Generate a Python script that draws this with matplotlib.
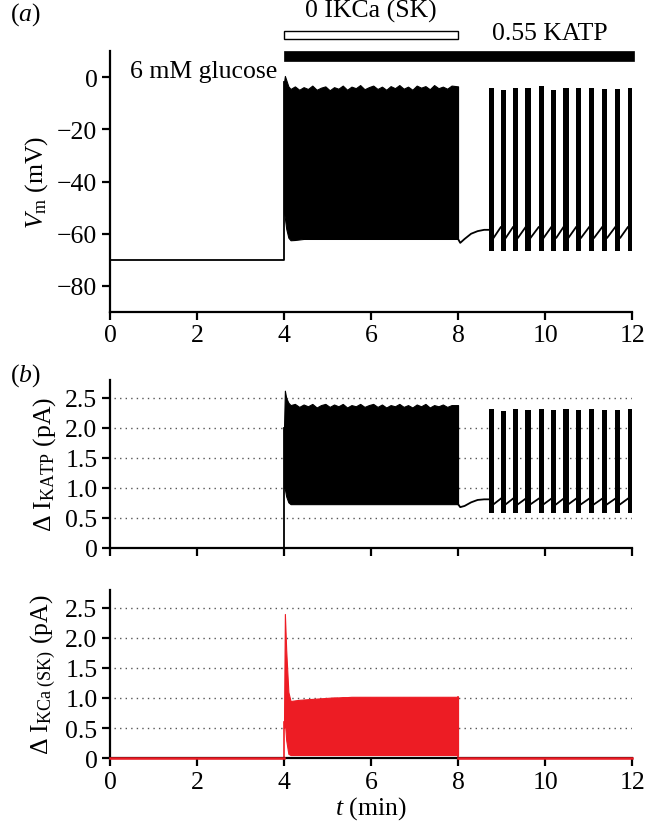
import numpy as np
import matplotlib
matplotlib.use('Agg')
import matplotlib.pyplot as plt
from matplotlib.patches import Rectangle
import matplotlib.transforms as mtransforms

plt.rcParams['font.family'] = ['Liberation Serif', 'DejaVu Serif']
plt.rcParams['mathtext.fontset'] = 'custom'
plt.rcParams['mathtext.rm'] = 'Liberation Serif'
plt.rcParams['mathtext.it'] = 'Liberation Serif:italic'
plt.rcParams['axes.unicode_minus'] = True

FS = 18.5
RED = '#ED1C24'

# ---- data ----
# resting segment (6 mM glucose, before the block)
t_rest = [0.0, 4.0]
vm_rest = [-70, -70]
katp_rest = [0.0, 0.0]
sk_rest = [0.0, 0.0]

# continuous spiking 4-8 min: envelope (min / max) of the traces
t_env = [4.0, 4.02, 4.05, 4.1, 4.15, 4.25, 4.35, 4.45, 4.55, 4.65, 4.75, 4.85,
         4.95, 5.05, 5.15, 5.25, 5.35, 5.45, 5.55, 5.65, 5.75, 5.85, 5.95, 6.05,
         6.15, 6.25, 6.35, 6.45, 6.55, 6.65, 6.75, 6.85, 6.95, 7.05, 7.15, 7.25,
         7.35, 7.45, 7.55, 7.65, 7.75, 7.85, 8.0]
vm_hi = [-2, 0.5, -1, -3.5, -4.5, -3.5, -4.8, -3.8, -4.5, -3.2, -4.8, -4.0,
         -3.5, -5.0, -3.8, -4.4, -3.2, -4.8, -3.6, -4.2, -3.0, -4.6, -3.8, -3.2,
         -4.5, -3.6, -4.8, -3.4, -4.2, -3.0, -4.4, -3.6, -4.8, -3.2, -4.0, -3.4,
         -4.6, -3.0, -4.2, -3.6, -4.4, -3.2, -3.5]
vm_lo = [-52, -54, -58, -61.5, -62.5, -62.4, -62.2] + [-62.0] * 36
katp_hi = [2.0, 2.62, 2.5, 2.42, 2.38, 2.40, 2.35, 2.39, 2.36, 2.40, 2.34,
           2.38, 2.40, 2.35, 2.39, 2.36, 2.40, 2.34, 2.38, 2.36, 2.40, 2.35,
           2.38, 2.40, 2.35, 2.39, 2.34, 2.38, 2.36, 2.40, 2.35, 2.38, 2.34,
           2.39, 2.36, 2.40, 2.34, 2.38, 2.36, 2.39, 2.35, 2.38, 2.38]
katp_lo = [1.0, 0.98, 0.86, 0.76, 0.73] + [0.73] * 38
sk_hi = [0.6, 2.4, 1.8, 1.1, 0.95, 0.96, 0.97, 0.975, 0.98, 0.985, 0.99,
         0.995, 1.0, 1.005, 1.01, 1.01, 1.015, 1.015, 1.02] + [1.02] * 24
sk_lo = [0.5, 0.6, 0.3, 0.07, 0.05] + [0.05] * 38

# recovery after SK block removed (8 - 8.7 min)
t_rec = [8.0, 8.05, 8.15, 8.3, 8.45, 8.6, 8.7]
vm_rec = [-62, -63.5, -62, -60, -59, -58.5, -58.5]
katp_rec = [0.73, 0.68, 0.70, 0.76, 0.80, 0.81, 0.81]
sk_after = [0.0, 0.0]
t_after = [8.0, 12.0]

# bursting 8.7-12 min
burst_start = [8.70, 8.98, 9.26, 9.55, 9.85, 10.14, 10.42, 10.71, 11.01, 11.31,
               11.61, 11.90]
burst_width = 0.12
vm_burst_top = [-4, -5, -4, -4, -3.5, -5, -4, -4, -4, -4.5, -4.5, -4]
vm_burst_bot = -66.5
vm_inter = (-61.5, -57.5)  # after burst, before next burst
katp_burst_top = [2.32, 2.28, 2.32, 2.3, 2.32, 2.3, 2.32, 2.3, 2.32, 2.3, 2.3, 2.32]
katp_burst_bot = 0.58
katp_inter = (0.73, 0.82)

xticks = [0, 2, 4, 6, 8, 10, 12]
vm_ticks = [0, -20, -40, -60, -80]
i_ticks = [0, 0.5, 1.0, 1.5, 2.0, 2.5]
i_ticklabels = ['0', '0.5', '1.0', '1.5', '2.0', '2.5']

fig = plt.figure(figsize=(6.45, 8.28), dpi=100)
ax_a = fig.add_axes([0.1705, 0.622, 0.8095, 0.315])
ax_b = fig.add_axes([0.1705, 0.337, 0.8095, 0.203])
ax_c = fig.add_axes([0.1705, 0.0833, 0.8095, 0.203])


def style(ax):
    for s in ['top', 'right']:
        ax.spines[s].set_visible(False)
    for s in ['left', 'bottom']:
        ax.spines[s].set_linewidth(1.6)
    ax.tick_params(direction='out', length=6, width=1.6, labelsize=FS, pad=3)
    ax.set_xlim(0, 12)
    ax.set_xticks(xticks)


def draw_bursts(ax, top, bot, inter, lw):
    ax.bar(burst_start, np.array(top) - bot, bottom=bot, width=burst_width,
           align='edge', color='k', linewidth=0)
    for i in range(len(burst_start) - 1):
        x0 = burst_start[i] + burst_width
        x1 = burst_start[i + 1]
        ax.plot([x0, x1], list(inter), color='k', lw=lw)


# ---- panel (a) ----
style(ax_a)
ax_a.plot(np.r_[t_rest, t_env[0]], np.r_[vm_rest, vm_hi[0]], color='k', lw=1.3)
ax_a.fill_between(t_env, vm_lo, vm_hi, color='k', lw=0.8, edgecolor='k')
ax_a.plot(t_rec, vm_rec, color='k', lw=1.3)
draw_bursts(ax_a, vm_burst_top, vm_burst_bot, vm_inter, 1.3)
ax_a.set_ylim(-90, 10)
ax_a.set_yticks(vm_ticks)
ax_a.set_ylabel(r'$V_{\mathrm{m}}$ (mV)', fontsize=FS, labelpad=5)

trans = mtransforms.blended_transform_factory(ax_a.transData, ax_a.transAxes)
ax_a.add_patch(Rectangle((4, 1.046), 4, 0.031, transform=trans, facecolor='white',
                         edgecolor='k', lw=1.0, clip_on=False))
ax_a.add_patch(Rectangle((4, 0.962), 8.05, 0.038, transform=trans, facecolor='k',
                         edgecolor='k', lw=0.5, clip_on=False))
ax_a.text(6.0, 1.155, '0 IKCa (SK)', transform=trans, ha='center', va='center',
          fontsize=FS)
ax_a.text(10.1, 1.07, '0.55 KATP', transform=trans, ha='center', va='center',
          fontsize=FS)
ax_a.text(0.46, 0.923, '6 mM glucose', transform=trans, ha='left', va='center',
          fontsize=FS)

# ---- panel (b) ----
style(ax_b)
ax_b.plot(np.r_[t_rest, t_env[0]], np.r_[katp_rest, katp_hi[0]], color='k', lw=1.3)
ax_b.plot([t_env[0], t_env[0]], [-0.08, 0], color='k', lw=1.3, clip_on=False)
ax_b.fill_between(t_env, katp_lo, katp_hi, color='k', lw=0.8, edgecolor='k')
ax_b.plot(t_rec, katp_rec, color='k', lw=1.3)
draw_bursts(ax_b, katp_burst_top, katp_burst_bot, katp_inter, 1.3)
ax_b.set_ylim(0, 2.8)
ax_b.set_yticks(i_ticks)
ax_b.set_yticklabels(i_ticklabels)
ax_b.set_xticklabels([])
ax_b.set_ylabel(r'$\Delta\ \mathrm{I}_{\mathrm{KATP}}$ (pA)', fontsize=FS, labelpad=5)

# ---- panel (c) ----
style(ax_c)
ax_c.fill_between(t_env, sk_lo, sk_hi, color=RED, lw=0.8, edgecolor=RED)
ax_c.plot(t_rest, sk_rest, color=RED, lw=1.8, clip_on=False, zorder=3)
ax_c.plot(t_after, sk_after, color=RED, lw=1.8, clip_on=False, zorder=3)
ax_c.plot([t_env[0], t_env[0]], [sk_rest[-1], sk_hi[0]], color=RED, lw=1.2)
ax_c.plot([t_env[-1], t_env[-1]], [sk_after[0], sk_hi[-1]], color=RED, lw=1.2)
ax_c.set_ylim(0, 2.8)
ax_c.set_yticks(i_ticks)
ax_c.set_yticklabels(i_ticklabels)
ax_c.set_ylabel(r'$\Delta\ \mathrm{I}_{\mathrm{KCa\ (SK)}}$ (pA)', fontsize=FS,
                labelpad=5)
ax_c.set_xlabel(r'$t$ (min)', fontsize=FS, labelpad=1)

# dotted grid lines
for ax in (ax_b, ax_c):
    for y in i_ticks[1:]:
        ax.plot([0.1, 12], [y, y], color='#555555', lw=1.0,
                linestyle=(0, (1, 3)), zorder=0)

fig.text(0.015, 0.982, r'$(a)$', fontsize=FS, va='center')
fig.text(0.015, 0.547, r'$(b)$', fontsize=FS, va='center')

fig.savefig('out.png', dpi=100)
